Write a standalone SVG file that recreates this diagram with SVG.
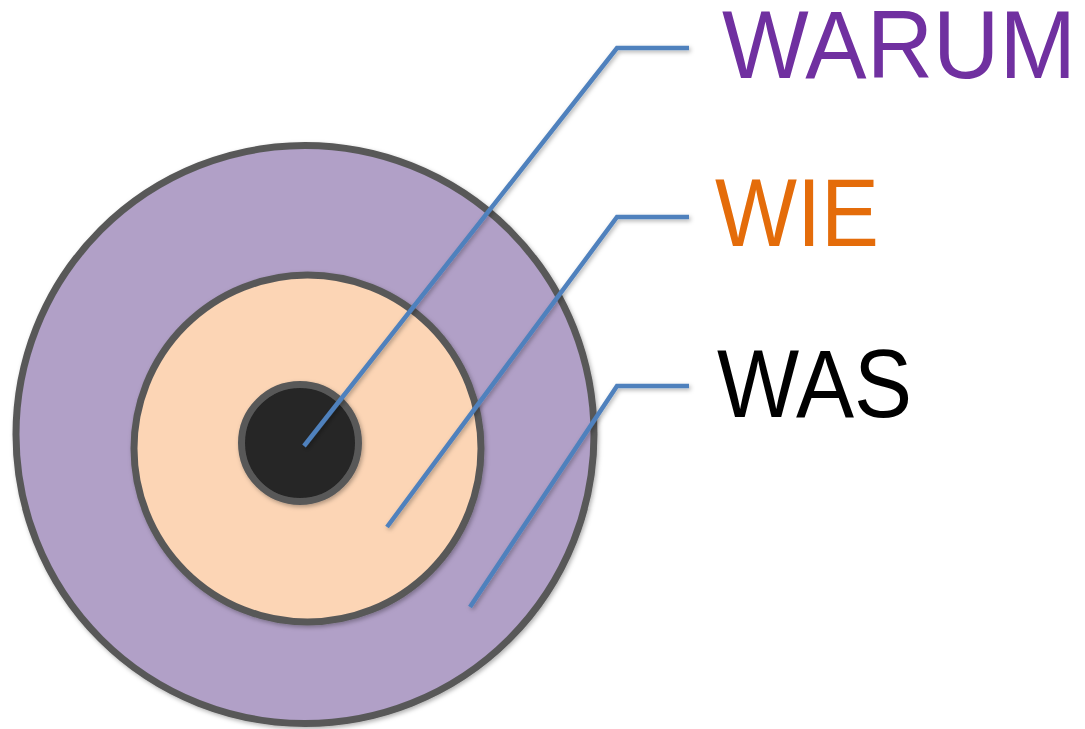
<svg xmlns="http://www.w3.org/2000/svg" width="1085" height="729" viewBox="0 0 1085 729">
<defs>
<filter id="sh" x="-10%" y="-10%" width="120%" height="120%">
<feDropShadow dx="1.5" dy="2" stdDeviation="2" flood-color="#000" flood-opacity="0.3"/>
</filter>
<style>
.ring{stroke:#595959;stroke-width:7;filter:url(#sh)}
.conn{fill:none;stroke:#4F81BD;stroke-width:4.5;stroke-linejoin:miter;filter:url(#sh)}
.lbl{font-family:"Liberation Sans",Arial,sans-serif;font-size:97px}
</style>
</defs>
<rect width="1085" height="729" fill="#fff"/>
<g id="outer"><circle class="ring" cx="305" cy="434.5" r="289" fill="#B1A0C7"/></g>
<g id="middle"><circle class="ring" cx="307.5" cy="448.5" r="173.5" fill="#FCD5B5"/></g>
<g id="core"><circle class="ring" cx="300" cy="443" r="58.5" fill="#262626"/></g>
<g id="connectors">
<polyline class="conn" points="304,446 617,48 689,48"/>
<polyline class="conn" points="387,527 617,217 689,217"/>
<polyline class="conn" points="470,607 617,386 689,386"/>
</g>
<g id="label-warum"><text class="lbl" x="722" y="78" fill="#7030A0" textLength="354" lengthAdjust="spacingAndGlyphs">WARUM</text></g>
<g id="label-wie"><text class="lbl" x="715" y="246" fill="#E46C0A" textLength="164" lengthAdjust="spacingAndGlyphs">WIE</text></g>
<g id="label-was"><text class="lbl" x="717" y="417" fill="#000000" textLength="195" lengthAdjust="spacingAndGlyphs">WAS</text></g>
</svg>
